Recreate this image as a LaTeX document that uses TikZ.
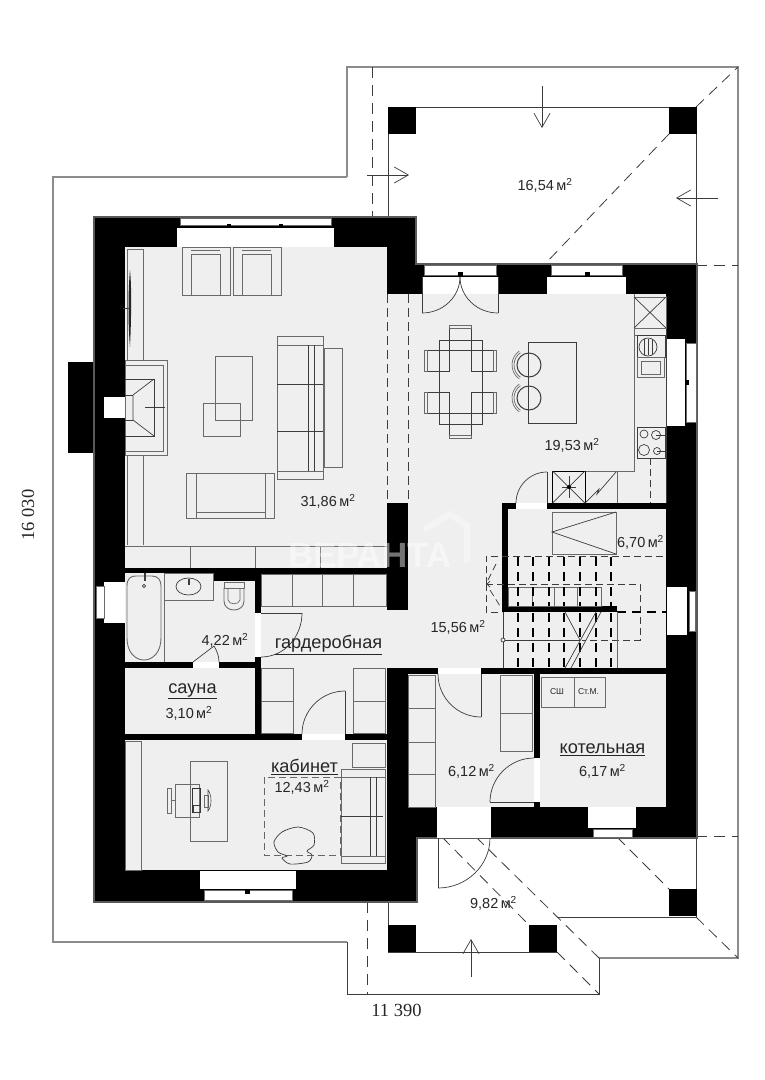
\documentclass[tikz,border=0pt]{standalone}
\usepackage{fontspec}
\setmainfont{Liberation Sans}
\newfontfamily\serifdim{Liberation Serif}
\usetikzlibrary{calc,arrows.meta}
\definecolor{floorc}{HTML}{EFEFEF}
\definecolor{linec}{HTML}{3C3C3C}
\definecolor{roofc}{HTML}{8C8C8C}
\definecolor{furnc}{HTML}{6A6A6A}
\tikzset{
  thinl/.style={draw=linec,line width=0.7pt},
  furn/.style={draw=furnc,line width=0.9pt,fill=floorc},
  furnl/.style={draw=linec,line width=0.7pt},
  roofl/.style={draw=roofc,line width=1.1pt},
  termline/.style={draw=linec,line width=0.8pt},
  dashl/.style={draw=linec,line width=0.7pt,dash pattern=on 9pt off 5pt},
  dashr/.style={draw=linec,line width=0.8pt,dash pattern=on 11pt off 7pt},
  dashs/.style={draw=linec,line width=0.7pt,dash pattern=on 7pt off 4pt},
  dashb/.style={draw=black,line width=1.2pt,dash pattern=on 9pt off 6pt},
  wall/.style={fill=black,draw=none},
  glass/.style={fill=white,draw=none},
  area/.style={font=\fontsize{14.5}{16}\selectfont,text=black!85,inner sep=0pt},
  room/.style={font=\fontsize{18.2}{20}\selectfont,text=black!85,inner sep=0pt},
  tiny/.style={font=\fontsize{8.5}{10}\selectfont,text=black!85,inner sep=0pt},
  dimen/.style={font=\serifdim\fontsize{18.5}{20}\selectfont,text=black!85,inner sep=0pt},
  arr/.style={draw=linec,line width=0.7pt,-{Straight Barb[length=14pt,width=16pt,line width=0.7pt]}},
}
\newcommand{\qarc}[3]{\draw[thinl] (#1) .. controls ($(#1)!.55!(#2)$) and ($(#3)!.55!(#2)$) .. (#3);}
\newcommand{\mq}{\,м\textsuperscript{2}}
\begin{document}
\begin{tikzpicture}[x=1pt,y=-1pt]
\useasboundingbox (0,0) rectangle (764,1080);
\fill[white] (0,0) rectangle (764,1080);
% roof outline
\draw[roofl] (347,177) -- (347,67) -- (738,67) -- (738,958) -- (599,958);
\draw[roofl] (347,177) -- (53,177) -- (53,942) -- (347,942);
\draw[termline] (347,942) -- (347,994) -- (599,994) -- (599,958);
\draw[dashr] (372,67) -- (372,217);
\draw[dashr] (367,902) -- (367,994);
\draw[thinl] (388,217) -- (388,107) -- (696,107) -- (696,264);
\draw[dashr] (696,265) -- (738,265);
\draw[dashr] (696,836) -- (738,836);
\draw[dashr] (696,107) -- (738,67);
\draw[dashr] (669,134) -- (545,264);
\draw[thinl] (696,838) -- (696,917) -- (557,917);
\draw[thinl] (388,902) -- (388,952) -- (557,952);
\draw[dashr] (442,837) -- (529,925);
\draw[dashr] (476,837) -- (599,958);
\draw[dashr] (617,837) -- (669,889);
\draw[dashr] (696,917) -- (738,958);
\draw[dashr] (557,952) -- (599,994);
% terrace posts
\foreach \px/\py in {388/107,669/107,388/925,529/925,669/889}
  \fill[black] (\px,\py) rectangle ++(27.5,27);
% building
\fill[black] (68,362) rectangle (96,453);
\draw[draw=black!65,line width=1.5pt,fill=black] (94,217) -- (416,217) -- (416,264) -- (697,264) -- (697,838) -- (417,838) -- (417,902) -- (94,902) -- cycle;
% floors
\fill[floorc] (125,247) rectangle (387,568);
\fill[floorc] (387,294) rectangle (666,503);
\fill[floorc] (408,503) rectangle (666,669);
\fill[floorc] (261,574) rectangle (387,734);
\fill[floorc] (387,610) rectangle (408,669);
\fill[floorc] (125,573) rectangle (255,662);
\fill[floorc] (125,668) rectangle (255,734);
\fill[floorc] (125,740) rectangle (387,870);
\fill[floorc] (408,674) rectangle (534,807);
\fill[floorc] (540,674) rectangle (666,807);
% inner walls
\fill[wall] (502,503) rectangle (666,509);
\fill[wall] (502,503) rectangle (508,612);
\fill[wall] (502,606) rectangle (617,612);
\fill[wall] (213,573) rectangle (255,581);
\fill[wall] (534,674) rectangle (540,807);
\fill[wall] (387,503) rectangle (408,610);
% door openings
\fill[glass] (516,503) rectangle (547,509);
\fill[glass] (255,613) rectangle (261,657);
\fill[glass] (193,662) rectangle (219,668);
\fill[glass] (302,734) rectangle (345,740);
\fill[glass] (438,669) rectangle (481,674);
\fill[glass] (534,758) rectangle (540,802);
\fill[glass] (437,807) rectangle (491,838);
% windows
\fill[glass] (177,228) rectangle (334,247);
\draw[furn,fill=white] (180,218) rectangle (331,225);
\fill[black] (226.5,224) rectangle (231,228);
\fill[black] (278.5,224) rectangle (283,228);
\fill[glass] (422,277) rectangle (498,294);
\draw[furn,fill=white] (424,265.5) rectangle (496,275);
\fill[black] (457.5,272) rectangle (463,277);
\fill[glass] (547,277) rectangle (626,294);
\draw[furn,fill=white] (551,265.5) rectangle (622,275);
\fill[black] (584.5,272) rectangle (590,277);
\fill[glass] (667,339) rectangle (685,426);
\draw[furn,fill=white] (686,343) rectangle (696,422);
\fill[black] (685,379.5) rectangle (689,385);
\fill[glass] (667,587) rectangle (687,635);
\draw[furn,fill=white] (689,591) rectangle (695,631);
\fill[glass] (104,582) rectangle (125,623);
\draw[furn,fill=white] (96,586) rectangle (104,618);
\fill[glass] (200,871) rectangle (296,889);
\draw[furn,fill=white] (204,890) rectangle (292,900);
\fill[black] (245,889) rectangle (250,894);
\fill[glass] (588,807) rectangle (636,828);
\draw[furn,fill=white] (593,829) rectangle (632,837);
% chimney and fireplace
\fill[glass] (104,397) rectangle (125,418);
\draw[furn] (125,360) rectangle (167,455);
\draw[furn] (125,365) rectangle (163,451);
\draw[furnl] (125,379) -- (154,379) -- (154,436) -- (125,436);
\draw[furnl] (154,379) -- (133,395) -- (133,420) -- (154,436);
\draw[furnl] (125,395) -- (133,395) (125,420) -- (133,420);
\draw[furnl] (145,407) -- (165,407);
% living room furniture
\draw[furn] (127,249) rectangle (143,360);
\draw[furn] (127,455) -- (127,545) (143,455) -- (143,545);
\draw[furn] (125,546) -- (387,546);
\foreach \px in {190,255,320} \draw[furn] (\px,546) -- (\px,568);
\fill[black!85] (130,270) .. controls (132,290) and (131,325) .. (130,347) .. controls (128,325) and (128,290) .. (130,270) -- cycle;
\draw[furnl] (123,308) -- (130,308);
\foreach \px in {182,233} {
  \draw[furn] (\px,247) rectangle ++(48,48);
  \draw[furnl,draw=furnc] ($(\px,254)+(9,0)$) rectangle ++(29,41);
  \draw[furnl,draw=furnc] ($(\px,250)+(9,0)$) -- ++(29,0);
}
\draw[furnl,draw=furnc] (215,356) rectangle (252,420);
\draw[draw=furnc,line width=0.8pt] (203,403) rectangle (240,436);
\draw[furn] (277,336) rectangle (323,479);
\draw[furn] (324,348) rectangle (342,467);
\draw[furnl,draw=furnc] (277,345) -- (323,345) (277,471) -- (323,471);
\draw[furnl] (308,345) -- (308,471) (314,345) -- (314,471);
\draw[furnl] (277,384) -- (323,384) (277,431) -- (323,431);
\draw[furn] (186,473) rectangle (274,518);
\draw[furnl,draw=furnc] (196,473) -- (196,518) (265,473) -- (265,518) (196,512) -- (265,512);
% opening
\draw[dashl] (387,294) -- (387,503);
\draw[dashl] (408,294) -- (408,503);
% double door
\draw[thinl] (422,277) -- (422,313) (498,277) -- (498,313);
\qarc{460,277}{460,313}{422,313}
\qarc{460,277}{460,313}{498,313}
% dining
\draw[furnl] (439,340) rectangle (482,424);
\draw[furnl] (449,325) rectangle (471,350);
\draw[furnl] (449,413) rectangle (471,438);
\foreach \py in {350,392} {
  \draw[furnl] (424,\py) rectangle (449,\py+21);
  \draw[furnl] (471,\py) rectangle (496,\py+21);
  \draw[furn] (424,\py) rectangle (427,\py+21);
  \draw[furn] (493,\py) rectangle (496,\py+21);
}
\draw[furn] (449,325) rectangle (471,328);
\draw[furn] (449,435) rectangle (471,438);
% island and stools
\draw[furnl] (528,342) rectangle (576,423);
\foreach \py in {365,398} {
  \draw[draw=linec,line width=1pt] (529,\py) circle[radius=12];
  \draw[furnl,draw=furnc] (529,\py) +(125:15) arc[start angle=125,end angle=235,radius=15];
  \draw[furnl,draw=furnc] (529,\py) +(125:17) arc[start angle=125,end angle=235,radius=17];
}
% kitchen
\draw[furnl,draw=furnc,line width=1pt] (634,294) -- (634,471) -- (552,471);
\draw[furnl] (666,296) -- (666,503);
\draw[furn] (634,297) rectangle (666,328);
\draw[furnl] (634,297) -- (666,328) (666,297) -- (634,328);
\draw[furnl,draw=furnc] (634,328) -- (666,328) (634,335) -- (666,335);
\draw[furnl] (637,335) rectangle (665,357);
\draw[furnl] (648,347) circle[x radius=9,y radius=9];
\foreach \px in {644,648,652} \draw[furnl] (\px,339) -- (\px,355);
\draw[furn] (637,357) rectangle (664,377);
\draw[furnl,draw=furnc] (641,361) rectangle (660,374);
\draw[furnl] (637,427) rectangle (665,458);
\draw[furnl] (644,434) circle[radius=4];
\draw[furnl] (656,435) circle[radius=4.5];
\draw[furnl] (644,450) circle[radius=5.5];
\draw[furnl] (657,451) circle[radius=3.5];
\draw[furnl] (656,435) -- (665,435) (657,451) -- (665,451);
\draw[draw=black,line width=1pt] (552.5,471) rectangle (585,503);
\draw[furnl] (552.5,471) -- (585,503) (585,471) -- (552.5,503);
\draw[furnl] (569,476) -- (569,498) (562,487) -- (576,487);
\fill[black] (569,487) circle[radius=2];
\draw[furnl] (585,503) -- (599,489) -- (597,494) -- (616,472);
\draw[furn] (617,471) -- (617,503);
\draw[dashs] (650,458) -- (650,503);
% kitchen door
\draw[thinl] (547,472) -- (547,503);
\qarc{547,472}{516,472}{516,503}
% 6.70 room
\draw[furn] (552,512) rectangle (616,554);
\draw[furnl] (616,512) -- (552,532) -- (616,554);
% stairs
\draw[dashs] (486,584) -- (486,556) -- (667,556);
\draw[dashs] (486,584) -- (486,612) -- (502,612);
\draw[dashs] (486,584) -- (640,584) -- (640,640) -- (582,640);
\draw[dashb] (617,612) -- (667,612);
\draw[furn] (508,587) rectangle (601,606);
\foreach \px in {532,554,577} \draw[furn] (\px,587) -- (\px,606);
\foreach \px in {518,533,549,564,580,596,611} {
  \draw[dashb] (\px,557) -- (\px,606);
  \draw[dashb] (\px,613) -- (\px,668);
}
\draw[furnl,line width=1pt] (503,612) -- (503,668);
\draw[furn] (617,612) -- (617,668);
\draw[furnl] (565,612) -- (580,640) (565,668) -- (596,612);
\draw[furnl] (571,668) -- (601,612);
\draw[furnl] (503,640) -- (580,640);
\draw[furnl,fill=floorc] (503,640) circle[radius=2];
\draw[dashs] (496,564) -- (488,580);
\draw[dashs] (490,590) -- (500,606);
\draw[furnl] (490,581) -- (487,584) -- (490,587);
% bottom wall of hall, drawn over stairs
\fill[wall] (408,668) rectangle (666,674);
\fill[wall] (387,668) rectangle (408,838);
\fill[glass] (438,668) rectangle (481,674);
% tambour
\draw[furn] (408,675) rectangle (435,807);
\foreach \py in {708,742,774} \draw[furn] (408,\py) -- (435,\py);
\draw[furn] (500,675) rectangle (532,751);
\draw[furn] (500,713) -- (532,713);
\draw[thinl] (481,674) -- (481,717);
\qarc{481,717}{438,717}{438,674}
\draw[thinl] (490,802) -- (534,802);
\qarc{490,802}{490,758}{534,758}
% boiler room
\draw[furn] (541,677) rectangle (574,707);
\draw[furn] (574,677) rectangle (605,707);
% entrance door
\draw[thinl] (438,838) -- (438,888);
\qarc{438,888}{490,888}{490,838}
% bathroom
\draw[furn,fill=floorc,rounded corners=0pt] (127,586) .. controls (127,578) and (131,576) .. (136,576) -- (152,576) .. controls (158,576) and (161,580) .. (161,586) -- (161,638) .. controls (161,652) and (153,660) .. (144,660) .. controls (135,660) and (127,652) .. (127,638) -- cycle;
\draw[furn] (164,573) -- (164,662);
\draw[furn] (164,573) rectangle (213,600);
\draw[furnl] (188.5,586.5) circle[x radius=12.5,y radius=8.5];
\fill[linec] (188,579) rectangle (190,585);
\fill[linec] (144,573) rectangle (146,581);
\draw[furnl] (144,586) circle[radius=1.6];
\draw[furn] (224,588) -- (224,601) .. controls (224,607) and (229,610) .. (234,610) .. controls (239,610) and (244,607) .. (244,601) -- (244,588) -- cycle;
\draw[furnl,draw=furnc] (228,588) -- (228,600) .. controls (229,605) and (239,605) .. (240,600) -- (240,588);
\draw[furn] (224,582) rectangle (244,588);
\draw[thinl] (193,662) -- (214,646);
\draw[thinl] (214,646) .. controls (217,651) and (219,656) .. (219,662);
\draw[thinl] (261,613) -- (302,613);
\draw[thinl] (302,613) .. controls (302,636) and (285,657) .. (261,657);
% wardrobe
\draw[furn] (261,574) rectangle (386,606);
\foreach \px in {292,322,353} \draw[furn] (\px,574) -- (\px,606);
\draw[furn] (261,668) rectangle (293,733);
\draw[furn] (261,701) -- (293,701);
\draw[furn] (353,668) rectangle (385,733);
\draw[furn] (353,701) -- (385,701);
\draw[thinl] (345,691) -- (345,734);
\qarc{345,691}{302,691}{302,734}
% study
\draw[furn] (125,741) rectangle (141,870);
\draw[furnl,draw=furnc] (190,761) rectangle (227,841);
\draw[furnl,draw=furnc] (175,784) rectangle (199,817);
\draw[furn,fill=none] (167,788) rectangle (171,813);
\draw[furnl,draw=furnc] (171,800) -- (175,800);
\draw[draw=black!80,line width=1pt] (192,788) rectangle (200,812);
\draw[furnl] (193,805) rectangle (200,812);
\draw[furnl,draw=furnc] (204,795) rectangle (208,807);
\draw[draw=black!70,line width=0.6pt] (208,790) .. controls (212,795) and (212,806) .. (208,811) -- cycle;
\draw[furn] (352,743) rectangle (385,767);
\draw[dashs,draw=black!60] (264,777) rectangle (340,855);
\draw[furn] (341,769) rectangle (385,863);
\draw[furnl,draw=furnc] (341,777) -- (385,777) (341,856) -- (385,856);
\draw[furnl] (370,777) -- (370,856) (376,777) -- (376,856) (341,816) -- (383,816);
\draw[furnl] plot[smooth cycle] coordinates {(274,842) (282,832) (298,827) (313,833) (314,845) (307,851) (312,855) (308,862) (290,864) (282,858) (287,856) (278,852)};
% arrows
\draw[arr] (542,86) -- (542,128);
\draw[arr] (367,175) -- (409,175);
\draw[arr] (718,198) -- (676,198);
\draw[arr] (471,977) -- (471,939);
% labels
\node[area] (a1) at (545,185) {16,54\mq};
\node[area] (a2) at (328,501) {31,86\mq};
\node[area] (a3) at (572,445) {19,53\mq};
\node[area] (a4) at (640.5,542) {6,70\mq};
\node[area] (a5) at (458,627) {15,56\mq};
\node[area] (a6) at (225,640) {4,22\mq};
\node[room] (r1) at (328.5,645) {\underline{гардеробная}};
\node[room] (r2) at (192.5,691) {\underline{сауна}};
\node[area] (a7) at (189,713) {3,10\mq};
\node[room] (r3) at (304.5,767) {\underline{кабинет}};
\node[area] (a8) at (302,787) {12,43\mq};
\node[area] (a9) at (471.5,771) {6,12\mq};
\node[room] (r4) at (602.5,750) {\underline{котельная}};
\node[area] (a10) at (602.5,771) {6,17\mq};
\node[area] (a11) at (493.5,903) {9,82\mq};
\node[tiny] (t1) at (557,692) {СШ};
\node[tiny] (t2) at (588.5,692) {Ст.М.};
\node[dimen,rotate=90] (d1) at (28,515) {16 030};
\node[dimen] (d2) at (396.5,1010) {11 390};
% watermark
\node[font=\bfseries\fontsize{35}{36}\selectfont,text=white,text opacity=0.45,inner sep=0pt] (w1) at (370,555) {ВЕРАНТА};
\draw[white,opacity=0.35,line width=6pt] (424,530) -- (450,514) -- (467,526) -- (467,562);
\end{tikzpicture}
\end{document}
